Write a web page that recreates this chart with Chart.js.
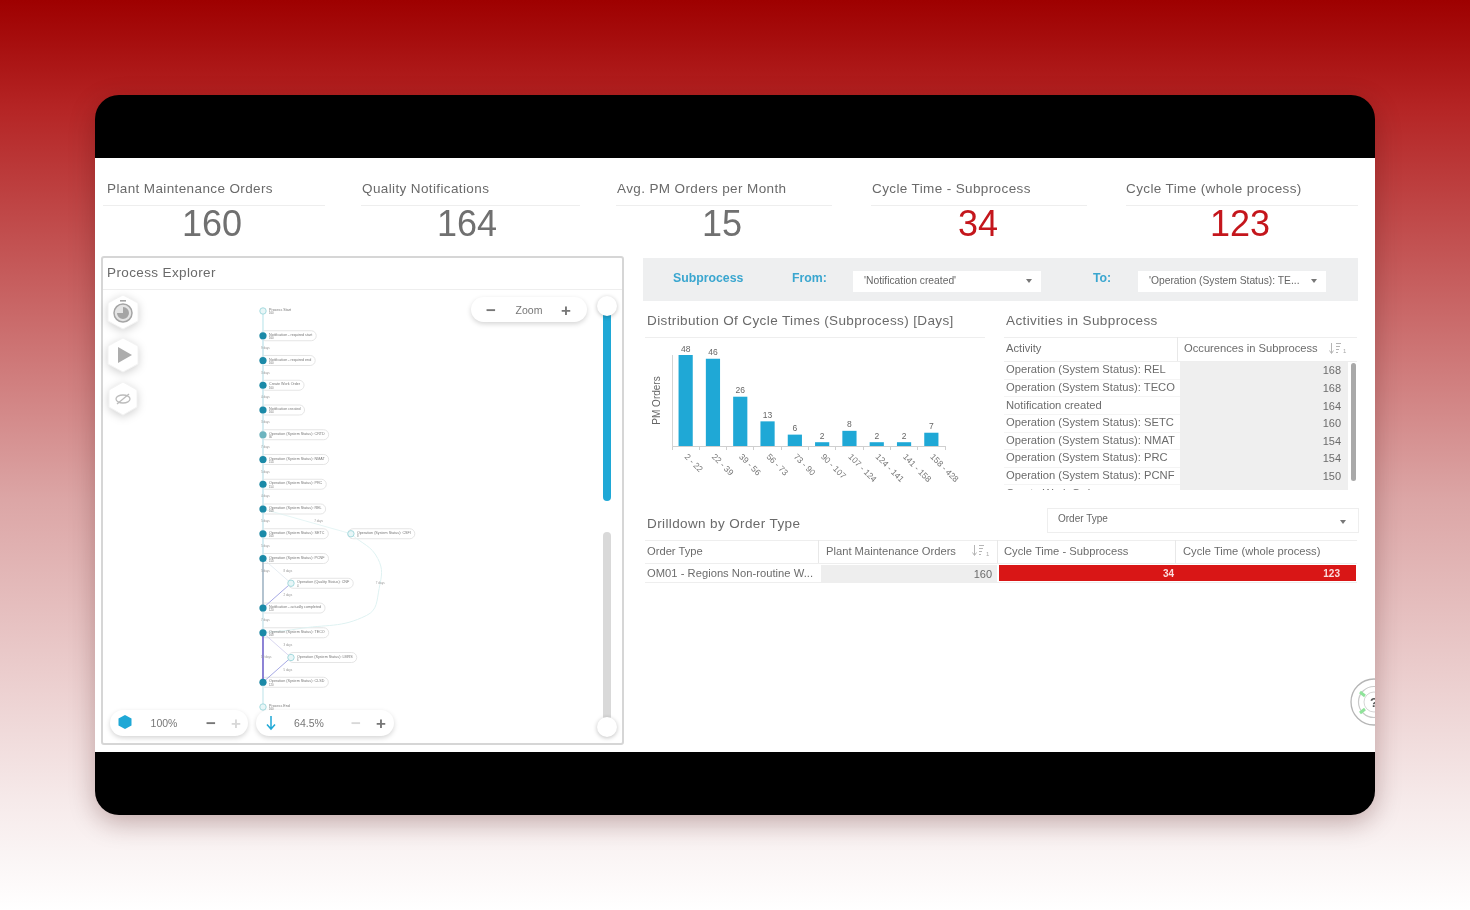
<!DOCTYPE html>
<html><head><meta charset="utf-8">
<script src="https://cdn.jsdelivr.net/npm/chart.js@4"></script>
<style>
html,body{margin:0;padding:0;width:1470px;height:910px;overflow:hidden;background:linear-gradient(#9e0000 0%,#b52525 12%,#dca6a6 55%,#f6eaea 88%,#fff 100%);font-family:"Liberation Sans",Arial,sans-serif}
#card{position:absolute;left:95px;top:95px;width:1280px;height:720px;border-radius:24px;background:#000;overflow:hidden;box-shadow:0 8px 26px rgba(60,0,0,.28)}
#white{position:absolute;left:0;top:63px;width:1280px;height:594px;background:#fff;overflow:hidden}
#stage{position:absolute;left:-95px;top:-158px;width:1470px;height:910px;filter:blur(.45px)}
.t{position:absolute;white-space:nowrap;color:#6a6a6a;line-height:1}
.h{font-size:13.5px;letter-spacing:.38px;transform:translateY(-50%)}
.big{font-size:36px;transform:translate(-50%,-50%);color:#707070}
.line{position:absolute;height:1px;background:#eeeeee}
.box{position:absolute}
.c{font-size:11.2px;color:#6c6c6c;transform:translateY(-50%)}
.r{font-size:11px;color:#6c6c6c;transform:translate(-100%,-50%)}
.blue{color:#3aa6cf;font-weight:bold;font-size:12.3px;transform:translateY(-50%)}
.dd{font-size:10.3px;color:#666;transform:translateY(-50%)}
.arr{position:absolute;width:0;height:0;border-left:3.5px solid transparent;border-right:3.5px solid transparent;border-top:4px solid #777}
.pill{position:absolute;background:#fff;border-radius:14px;box-shadow:0 2px 5px rgba(0,0,0,.17)}
.sym{font-size:17px;color:#777;font-weight:bold;transform:translate(-50%,-50%)}
.sym.l{color:#d8d8d8}
.z{font-size:10.5px;color:#777;transform:translate(-50%,-50%)}
canvas{position:absolute}
#process{filter:blur(.5px)}
</style></head><body>
<div id="card"><div id="white"><div id="stage">

<div id="kpis"></div>

<!-- Process explorer -->
<div class="box" style="left:101px;top:256px;width:519px;height:485px;border:2px solid #d6d6d6;border-radius:3px"></div>
<div class="line" style="left:103px;top:289px;width:519px"></div>
<div class="t h" style="left:107px;top:273px">Process Explorer</div>
<canvas id="process" style="left:103px;top:290px;width:490px;height:450px"></canvas>

<svg class="box" style="left:100px;top:290px;filter:drop-shadow(0 2px 4px rgba(0,0,0,.18))" width="50" height="130" viewBox="0 0 50 130">
 <g fill="#fff" stroke="#f2f2f2">
  <polygon points="23,5 38,13 38,31 23,39 8,31 8,13"/>
  <polygon points="23,48 38,56 38,74 23,82 8,74 8,56"/>
  <polygon points="23,92 37,100 37,117 23,125 9,117 9,100"/>
 </g>
 <circle cx="23" cy="23" r="9" fill="#e4e4e4" stroke="#a5a5a5" stroke-width="1.5"/>
 <path d="M23 23V17A6 6 0 1 1 17 23Z" fill="#a5a5a5"/>
 <rect x="20" y="10" width="6" height="1.6" fill="#a5a5a5"/>
 <polygon points="18,57 18,73 32,65" fill="#adadad"/>
 <ellipse cx="23" cy="109" rx="7" ry="4" fill="none" stroke="#bcbcbc" stroke-width="1.3"/>
 <line x1="17" y1="114" x2="29" y2="104" stroke="#bcbcbc" stroke-width="1.3"/>
</svg>

<div class="pill" style="left:471px;top:297px;width:116px;height:25px"></div>
<div class="t sym" style="left:491px;top:310px">−</div>
<div class="t z" style="left:529px;top:310px">Zoom</div>
<div class="t sym" style="left:566px;top:310px">+</div>

<div class="box" style="left:603px;top:305px;width:8px;height:196px;border-radius:4px;background:#1fa8d6"></div>
<div class="box" style="left:603px;top:532px;width:8px;height:196px;border-radius:4px;background:#d9d9d9"></div>
<div class="box" style="left:597px;top:296px;width:20px;height:20px;border-radius:50%;background:#fff;box-shadow:0 1px 4px rgba(0,0,0,.25)"></div>
<div class="box" style="left:597px;top:717px;width:20px;height:20px;border-radius:50%;background:#fff;box-shadow:0 1px 4px rgba(0,0,0,.25)"></div>

<div class="pill" style="left:110px;top:710px;width:138px;height:26px"></div>
<div class="pill" style="left:256px;top:710px;width:138px;height:26px"></div>
<svg class="box" style="left:117px;top:714px" width="16" height="16" viewBox="0 0 16 16"><polygon points="8,1 14.5,4.5 14.5,11.5 8,15 1.5,11.5 1.5,4.5" fill="#1fa8d6"/></svg>
<div class="t z" style="left:164px;top:723px">100%</div>
<div class="t sym" style="left:211px;top:723px">−</div>
<div class="t sym l" style="left:236px;top:723px">+</div>
<svg class="box" style="left:264px;top:715px" width="14" height="16" viewBox="0 0 14 16"><path d="M7 1V13M3 9.5L7 14L11 9.5" fill="none" stroke="#1fa8d6" stroke-width="1.5"/></svg>
<div class="t z" style="left:309px;top:723px">64.5%</div>
<div class="t sym l" style="left:356px;top:723px">−</div>
<div class="t sym" style="left:381px;top:723px">+</div>

<!-- Subprocess filter -->
<div class="box" style="left:643px;top:258px;width:715px;height:43px;background:#eeeff0"></div>
<div class="t blue" style="left:673px;top:278px">Subprocess</div>
<div class="t blue" style="left:792px;top:278px">From:</div>
<div class="box" style="left:853px;top:271px;width:188px;height:21px;background:#fff"></div>
<div class="t dd" style="left:864px;top:281px">'Notification created'</div>
<div class="arr" style="left:1026px;top:279px"></div>
<div class="t blue" style="left:1093px;top:278px">To:</div>
<div class="box" style="left:1138px;top:271px;width:188px;height:21px;background:#fff"></div>
<div class="t dd" style="left:1149px;top:281px">'Operation (System Status): TE...</div>
<div class="arr" style="left:1311px;top:279px"></div>

<!-- Distribution chart -->
<div class="t h" style="left:647px;top:321px">Distribution Of Cycle Times (Subprocess) [Days]</div>
<div class="line" style="left:645px;top:337px;width:340px"></div>
<canvas id="dist" style="left:645px;top:335px;width:340px;height:165px"></canvas>

<!-- Activities -->
<div class="t h" style="left:1006px;top:321px">Activities in Subprocess</div>
<div class="line" style="left:1004px;top:337px;width:353px"></div>
<div class="line" style="left:1004px;top:361px;width:353px"></div>
<div class="box" style="left:1177px;top:337px;width:1px;height:24px;background:#e8e8e8"></div>
<div class="t c" style="left:1006px;top:349px">Activity</div>
<div class="t c" style="left:1184px;top:349px">Occurences in Subprocess</div>
<svg class="box" style="left:1328px;top:342px" width="20" height="13" viewBox="0 0 20 13"><path d="M3.5 1V11M1.5 8.5L3.5 11.5L5.5 8.5M8 1.5H13M8 4.5H12M8 7.5H11M8 10.5H10" fill="none" stroke="#b5b5b5" stroke-width="1"/></svg>
<div class="t" style="left:1343px;top:348px;font-size:6px;color:#aaa">1</div>
<div class="box" id="actBox" style="left:1004px;top:362px;width:346px;height:128px;overflow:hidden"><div class="box" style="left:176px;top:0;width:168px;height:128px;background:#efefef"></div></div>
<div class="box" style="left:1351px;top:363px;width:5px;height:118px;border-radius:3px;background:#a9a9a9"></div>

<!-- Drilldown -->
<div class="t h" style="left:647px;top:524px">Drilldown by Order Type</div>
<div class="box" style="left:1047px;top:508px;width:310px;height:23px;border:1px solid #eee"></div>
<div class="t dd" style="left:1058px;top:519px;font-size:10px">Order Type</div>
<div class="arr" style="left:1340px;top:520px"></div>
<div class="line" style="left:645px;top:540px;width:712px"></div>
<div class="line" style="left:645px;top:563px;width:712px"></div>
<div class="box" style="left:818px;top:540px;width:1px;height:23px;background:#e8e8e8"></div>
<div class="box" style="left:997px;top:540px;width:1px;height:23px;background:#e8e8e8"></div>
<div class="box" style="left:1175px;top:540px;width:1px;height:23px;background:#e8e8e8"></div>
<svg class="box" style="left:971px;top:544px" width="20" height="13" viewBox="0 0 20 13"><path d="M3.5 1V11M1.5 8.5L3.5 11.5L5.5 8.5M8 1.5H13M8 4.5H12M8 7.5H11M8 10.5H10" fill="none" stroke="#b5b5b5" stroke-width="1"/></svg>
<div class="t" style="left:986px;top:551px;font-size:6px;color:#aaa">1</div>
<div id="drill"></div>

<!-- Help widget -->
<svg class="box" style="left:1345px;top:672px" width="60" height="60" viewBox="0 0 60 60">
 <circle cx="29" cy="30" r="23" fill="#fff" stroke="#b5b5b5" stroke-width="1.3"/>
 <circle cx="29" cy="30" r="15.5" fill="none" stroke="#c9c9c9" stroke-width="1.2"/>
 <circle cx="29" cy="30" r="10" fill="none" stroke="#d5d5d5" stroke-width="1"/>
 <path d="M20 24L15 20M20 37L15 41" stroke="#8fe39a" stroke-width="3"/>
 <text x="25" y="35" font-size="13" font-weight="bold" fill="#555" font-family="Liberation Sans">?</text>
</svg>

</div></div></div>

<script>
// ---------- KPI values ----------
const kpiLabels = ["Plant Maintenance Orders","Quality Notifications","Avg. PM Orders per Month","Cycle Time - Subprocess","Cycle Time (whole process)"];
const kpiValues = ["160","164","15","34","123"];
const kpiColors = ["#707070","#707070","#707070","#c4161c","#c4161c"];
const kpiLeft   = [107,362,617,872,1126];
const kpiCenter = [212,467,722,978,1240];
const kpiRuleX  = [103,361,616,871,1126];
const kpiRuleW  = [222,219,216,216,232];

// ---------- Distribution chart ----------
const cycleBins   = ["2 - 22","22 - 39","39 - 56","56 - 73","73 - 90","90 - 107","107 - 124","124 - 141","141 - 158","158 - 428"];
const cycleOrders = [48,46,26,13,6,2,8,2,2,7];

// ---------- Activities table ----------
const activityNames = ["Operation (System Status): REL","Operation (System Status): TECO","Notification created","Operation (System Status): SETC","Operation (System Status): NMAT","Operation (System Status): PRC","Operation (System Status): PCNF","Create Work Order"];
const activityCounts = [168,168,164,160,154,154,150,100];

// ---------- Drilldown table ----------
const drillHeaders = ["Order Type","Plant Maintenance Orders","Cycle Time - Subprocess","Cycle Time (whole process)"];
const drillRow = ["OM01 - Regions Non-routine W...","160","34","123"];

// ---------- Process map ----------
const nodeNames = ["Process Start","Notification - required start","Notification - required end","Create Work Order","Notification created","Operation (System Status): CRTD","Operation (System Status): NMAT","Operation (System Status): PRC","Operation (System Status): REL","Operation (System Status): SETC","Operation (System Status): PCNF","Operation (Quality Status): CNF","Notification - actually completed","Operation (System Status): TECO","Operation (System Status): LMRS","Operation (System Status): CLSD","Process End","Operation (System Status): CSFI"];
const nodeCounts = [160,160,160,160,164,80,154,154,168,160,150,4,120,168,6,120,160,8];
const nodeLanes  = [0,0,0,0,0,0,0,0,0,0,0,1,0,0,1,0,0,3.14];
const nodeSteps  = [0,1,2,3,4,5,6,7,8,9,10,11,12,13,14,15,16,9];
const nodeKinds  = [1,0,0,0,0,2,0,0,0,0,0,1,0,0,1,0,1,1];
const edgeFrom   = [0,1,2,3,4,5,6,7,8,9,10,10,11,12,13,13,14,15,8];
const edgeTo     = [1,2,3,4,5,6,7,8,9,10,12,11,12,13,15,14,15,16,17];
const edgeColor  = ["#d3eef2","#cfe9ef","#cfe9ef","#cfe9ef","#cfe9ef","#cfe9ef","#cfe9ef","#cfe9ef","#cfe9ef","#cfe9ef","#a9bcc9","#dfe9ef","#a6a9e4","#d3e8ee","#7a6fcf","#cfcdec","#a6a9e4","#d8eef2","#dff2f2"];
const edgeWidth  = [1,1,1,1,1,1,1,1,1,1,1,.8,1,1,1.7,.8,1,1,.8];
const csfiReturnLanes = [3.14,4.1,4.15,3.7,1.2,0];
const csfiReturnSteps = [9,10,11.2,12.3,12.85,13];
const edgeLabelTexts = ["9 days","3 days","4 days","3 days","7 days","5 days","4 days","5 days","5 days","7 days","5 days","8 days","2 days","7 days","7 days","10 days","3 days","5 days"];
const edgeLabelLanes = [0,0,0,0,0,0,0,0,0,1.9,0,.8,.8,4.1,0,0,.8,.8];
const edgeLabelSteps = [1.5,2.5,3.5,4.5,5.5,6.5,7.5,8.5,9.5,8.5,10.5,10.5,11.5,11,12.5,14,13.5,14.5];

// ---------- DOM tables ----------
function add(parent, cls, css, txt){const e=document.createElement('div');e.className=cls;e.style.cssText=css;if(txt!==undefined)e.textContent=txt;parent.appendChild(e);return e;}
const kpis=document.getElementById('kpis');
kpiLabels.forEach((l,i)=>{
  add(kpis,'t h',`left:${kpiLeft[i]}px;top:189px`,l);
  add(kpis,'line',`left:${kpiRuleX[i]}px;top:205px;width:${kpiRuleW[i]}px`);
  add(kpis,'t big',`left:${kpiCenter[i]}px;top:224px;color:${kpiColors[i]}`,kpiValues[i]);
});
const act=document.getElementById('actBox');
activityNames.forEach((n,i)=>{
  const y=8.3+i*17.6;
  add(act,'t c',`left:2px;top:${y}px`,n);
  add(act,'t r',`left:337px;top:${y}px`,String(activityCounts[i]));
  add(act,'line',`left:0;top:${Math.round(y+8.5)}px;width:176px;background:#f4f4f4`);
});
const dr=document.getElementById('drill');
[647,826,1004,1183].forEach((x,i)=>add(dr,'t c',`left:${x}px;top:551.5px`,drillHeaders[i]));
add(dr,'line',`left:645px;top:582px;width:712px`);
add(dr,'box',`left:821px;top:565px;width:176px;height:17px;background:#eeeeee`);
add(dr,'box',`left:999px;top:565px;width:357px;height:16px;background:#d91616`);
add(dr,'t c',`left:647px;top:573.5px;font-size:11.2px;letter-spacing:.02px`,drillRow[0]);
add(dr,'t r',`left:992px;top:573.5px`,drillRow[1]);
add(dr,'t r',`left:1174px;top:573.5px;color:#fbdcdc;font-weight:bold;font-size:10px`,drillRow[2]);
add(dr,'t r',`left:1340px;top:573.5px;color:#fbdcdc;font-weight:bold;font-size:10px`,drillRow[3]);

// ---------- Bar chart ----------
const barValueLabels={id:'barValueLabels',afterDatasetsDraw(c){
  const g=c.ctx,m=c.getDatasetMeta(0);
  g.save();g.font='8.5px "Liberation Sans"';g.fillStyle='#666';g.textAlign='center';g.textBaseline='bottom';
  m.data.forEach((b,i)=>g.fillText(String(c.data.datasets[0].data[i]),b.x,b.y-1.5));
  g.restore();
}};
new Chart(document.getElementById('dist'),{
  type:'bar',
  data:{labels:cycleBins,datasets:[{data:cycleOrders,backgroundColor:'#1fa8d6',barPercentage:.52,categoryPercentage:1,borderWidth:0}]},
  plugins:[barValueLabels],
  options:{responsive:false,animation:false,
    layout:{padding:{top:20,right:40,left:0,bottom:0}},
    plugins:{legend:{display:false},tooltip:{enabled:false}},
    scales:{
      x:{grid:{drawOnChartArea:false,drawTicks:true,tickLength:4,color:'#cfcfcf',offset:true},
         border:{color:'#cfcfcf'},
         ticks:{minRotation:-45,maxRotation:-45,autoSkip:false,font:{size:8.5,family:'Liberation Sans'},color:'#777',padding:2},
         afterFit(s){s.height=54;s._getXAxisLabelAlignment=()=>'left';}},
      y:{min:0,max:48,grid:{display:false},border:{color:'#d4d4d4'},
         ticks:{display:false},
         title:{display:true,text:'PM Orders',font:{size:10,family:'Liberation Sans'},color:'#666',padding:{top:6,bottom:0}},
         afterFit(s){s.width=27;}}
    }
  }
});

// ---------- Process map ----------
const edgeSets=edgeFrom.map((f,i)=>({
  type:'scatter',showLine:true,pointRadius:0,borderColor:edgeColor[i],borderWidth:edgeWidth[i],
  tension:0,
  data:[{x:nodeLanes[f],y:nodeSteps[f]},{x:nodeLanes[edgeTo[i]],y:nodeSteps[edgeTo[i]]}]
}));
edgeSets.push({type:'scatter',showLine:true,pointRadius:0,borderColor:'#dff2f2',borderWidth:1,tension:.45,
  data:csfiReturnLanes.map((x,i)=>({x,y:csfiReturnSteps[i]}))});
const nodeFill=['#1b8aa8','#e8f6f7','#6db4bf'];
const nodeSet={type:'scatter',pointRadius:nodeKinds.map(k=>k===1?3.2:3.6),pointBorderWidth:nodeKinds.map(k=>k===1?1:0),
  pointBorderColor:'#a5dade',pointBackgroundColor:nodeKinds.map(k=>nodeFill[k]),
  data:nodeLanes.map((x,i)=>({x,y:nodeSteps[i]}))};
const processText={id:'processText',
  beforeDatasetsDraw(c){
    const g=c.ctx,xs=c.scales.x,ys=c.scales.y;
    g.save();
    nodeNames.forEach((n,i)=>{
      const x=xs.getPixelForValue(nodeLanes[i]),y=ys.getPixelForValue(nodeSteps[i]);
      g.font='3.7px "Liberation Sans"';
      const w=g.measureText(n).width;
      if(i!==0&&i!==16){
        g.beginPath();g.roundRect(x-3,y-5,w+13,10,5);
        g.fillStyle='#fff';g.fill();g.strokeStyle='#dedede';g.lineWidth=.8;g.stroke();
      }
    });
    g.restore();
  },
  afterDatasetsDraw(c){
    const g=c.ctx,xs=c.scales.x,ys=c.scales.y;
    g.save();g.textBaseline='middle';g.fillStyle='#777';
    nodeNames.forEach((n,i)=>{
      const x=xs.getPixelForValue(nodeLanes[i]),y=ys.getPixelForValue(nodeSteps[i]);
      g.font='3.7px "Liberation Sans"';
      g.fillText(n,x+6,y-1);
      g.font='2.8px "Liberation Sans"';
      g.fillText(String(nodeCounts[i]),x+6,y+2.6);
    });
    g.font='3px "Liberation Sans"';g.fillStyle='#999';
    edgeLabelTexts.forEach((t,i)=>{
      g.fillText(t,xs.getPixelForValue(edgeLabelLanes[i])-2,ys.getPixelForValue(edgeLabelSteps[i]));
    });
    g.restore();
  }};
new Chart(document.getElementById('process'),{
  type:'scatter',
  data:{datasets:[nodeSet,...edgeSets]},
  plugins:[processText],
  options:{responsive:false,animation:false,layout:{padding:0,autoPadding:false},
    plugins:{legend:{display:false},tooltip:{enabled:false}},
    scales:{
      x:{type:'linear',display:false,min:-5.714,max:11.786},
      y:{type:'linear',display:false,reverse:true,min:-.848,max:17.333}
    }
  }
});
</script>
</body></html>
